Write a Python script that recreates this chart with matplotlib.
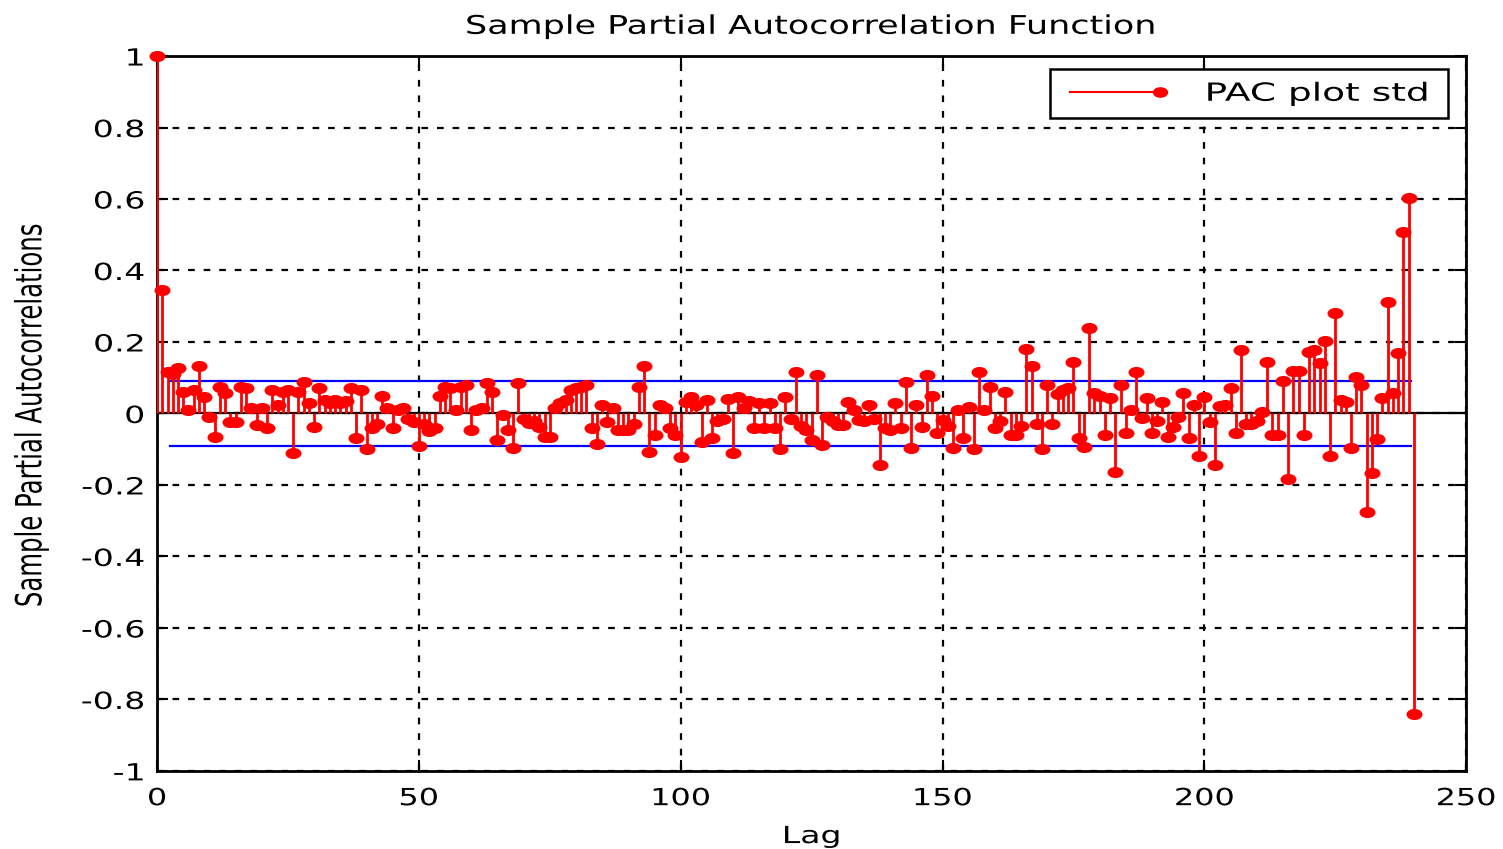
import numpy as np
import matplotlib
matplotlib.use("Agg")
import matplotlib.pyplot as plt
from matplotlib.lines import Line2D
from matplotlib.legend_handler import HandlerLine2D
from matplotlib.patheffects import AbstractPathEffect
from matplotlib.transforms import Affine2D
from matplotlib.path import Path

# ---------------- data ----------------
pacf_0_40 = [1.0, 0.345, 0.115, 0.11, 0.128, 0.06, 0.01, 0.065, 0.133, 0.045,
             -0.01, -0.065, 0.075, 0.056, -0.023, -0.023, 0.075, 0.07, 0.015, -0.033,
             0.015, -0.042, 0.065, 0.023, 0.06, 0.065, -0.112, 0.06, 0.089, 0.03,
             -0.037, 0.07, 0.037, 0.03, 0.037, 0.03, 0.035, 0.07, -0.07, 0.065,
             -0.1]
pacf_41_86 = [-0.04, -0.03, 0.05, 0.015, -0.04, 0.01, 0.015, -0.015, -0.025, -0.09,
              -0.03, -0.05, -0.04, 0.05, 0.075, 0.07, 0.01, 0.075, 0.08, -0.045,
              0.01, 0.015, 0.085, 0.06, -0.075, -0.005, -0.045, -0.098, 0.086, -0.015,
              -0.028, -0.02, -0.037, -0.065, -0.065, 0.014, 0.028, 0.037, 0.065, 0.07,
              0.075, 0.08, -0.04, -0.085, 0.025, -0.025]
pacf_87_127 = [0.015, -0.045, -0.045, -0.045, -0.03, 0.075, 0.133, -0.107, -0.06, 0.023,
               0.014, -0.042, -0.06, -0.123, 0.033, 0.047, 0.023, -0.08, 0.037, -0.07,
               -0.02, -0.015, 0.04, -0.11, 0.045, 0.015, 0.035, -0.04, 0.03, -0.04,
               0.03, -0.04, -0.1, 0.045, -0.015, 0.115, -0.035, -0.045, -0.075, 0.107,
               -0.089]
pacf_128_167 = [-0.01, -0.02, -0.033, -0.033, 0.033, 0.01, -0.019, -0.02, 0.023, -0.015,
                -0.145, -0.04, -0.047, 0.028, -0.04, 0.089, -0.098, 0.023, -0.037, 0.107,
                0.05, -0.056, -0.019, -0.035, -0.098, 0.009, -0.07, 0.019, -0.1, 0.117,
                0.009, 0.075, -0.042, -0.02, 0.06, -0.06, -0.06, -0.035, 0.18, 0.133]
pacf_168_206 = [-0.03, -0.1, 0.08, -0.03, 0.055, 0.065, 0.07, 0.145, -0.07, -0.093,
                0.238, 0.056, 0.05, -0.06, 0.042, -0.163, 0.08, -0.055, 0.01, 0.117,
                -0.014, 0.042, -0.055, -0.02, 0.033, -0.065, -0.037, -0.01, 0.056, -0.07,
                0.024, -0.12, 0.047, -0.023, -0.143, 0.02, 0.025, 0.07, -0.055]
pacf_207_240 = [0.178, -0.03, -0.03, -0.02, 0.005, 0.145, -0.06, -0.06, 0.09, -0.184,
                0.12, 0.12, -0.06, 0.173, 0.178, 0.14, 0.203, -0.12, 0.28, 0.038,
                0.033, -0.097, 0.103, 0.08, -0.277, -0.167, -0.072, 0.042, 0.313, 0.056,
                0.168, 0.509, 0.602, -0.84]

pacf = np.array(pacf_0_40 + pacf_41_86 + pacf_87_127 + pacf_128_167
                + pacf_168_206 + pacf_207_240)
lags = np.arange(len(pacf))
conf_bound = 0.09
conf_range = [2.5, 239.5]

xticks = [0, 50, 100, 150, 200, 250]
yticks = [-1, -0.8, -0.6, -0.4, -0.2, 0, 0.2, 0.4, 0.6, 0.8, 1]
ytick_labels = ["-1", "-0.8", "-0.6", "-0.4", "-0.2", "0", "0.2", "0.4", "0.6", "0.8", "1"]

title = "Sample Partial Autocorrelation Function"
xlabel = "Lag"
ylabel = "Sample Partial Autocorrelations"
legend_label = "PAC plot std"


# ---------------- helpers ----------------
class Stretch(AbstractPathEffect):
    """Stretch text glyphs along the text direction."""
    def __init__(self, sx, anchor='center'):
        super().__init__()
        self.sx = sx
        self.anchor = anchor

    def draw_path(self, renderer, gc, tpath, affine, rgbFace=None):
        ext = tpath.get_extents()
        if self.anchor == 'center':
            cx = 0.5 * (ext.x0 + ext.x1)
        elif self.anchor == 'right':
            cx = ext.x1
        else:
            cx = ext.x0
        t = Affine2D().translate(-cx, 0).scale(self.sx, 1).translate(cx, 0) + affine
        renderer.draw_path(gc, tpath, t, rgbFace)


ellipse = Path.unit_circle().transformed(Affine2D().scale(1.5, 1.0))

# ---------------- figure ----------------
plt.rcParams['font.family'] = ['DejaVu Sans']
fig = plt.figure(figsize=(15.03, 8.49), dpi=100)
ax = fig.add_axes([0.1045, 0.092, 0.871, 0.842])

red = '#ff0000'
ax.vlines(lags, 0, pacf, color=red, linewidth=2.0, zorder=3)
ax.plot(lags, pacf, linestyle='none', marker=ellipse, markersize=10.5,
        color=red, zorder=4, clip_on=False)
ax.axhline(0, color='black', linewidth=1.6, zorder=2)
ax.plot(conf_range, [conf_bound, conf_bound], color='#0000ff', linewidth=1.6, zorder=2)
ax.plot(conf_range, [-conf_bound, -conf_bound], color='#0000ff', linewidth=1.6, zorder=2)

ax.set_xlim(0, 250)
ax.set_ylim(-1, 1)
ax.set_xticks(xticks)
ax.set_yticks(yticks)
ax.set_yticklabels(ytick_labels)
ax.grid(True, color='black', linestyle=(0, (3, 4)), linewidth=1.6)
ax.set_axisbelow(True)
ax.tick_params(direction='in', length=8, width=1.5, labelsize=17,
               top=True, right=True)
ax.tick_params(axis='x', pad=11)
ax.tick_params(axis='y', pad=9)
for s in ax.spines.values():
    s.set_linewidth(2.0)
    s.set_color('black')

for lbl in ax.get_xticklabels():
    lbl.set_path_effects([Stretch(1.35, 'center')])
for lbl in ax.get_yticklabels():
    lbl.set_path_effects([Stretch(1.4, 'right')])

t = ax.set_title(title, fontsize=18.5, pad=16)
t.set_path_effects([Stretch(1.36, 'center')])
xl = ax.set_xlabel(xlabel, fontsize=17, labelpad=10)
xl.set_path_effects([Stretch(1.4, 'center')])
yl = ax.set_ylabel(ylabel, fontsize=26)
yl.set_path_effects([Stretch(0.675, 'center')])
ax.yaxis.set_label_coords(-0.083, 0.497)


class EndMarkerHandler(HandlerLine2D):
    def create_artists(self, legend, orig_handle, xdescent, ydescent,
                       width, height, fontsize, trans):
        arts = super().create_artists(legend, orig_handle, xdescent, ydescent,
                                      width, height, fontsize, trans)
        for a in arts:
            xd = a.get_xdata()
            if len(xd) >= 2:
                a.set_markevery([len(xd) - 1])
        return arts


handle = Line2D([0], [0], color=red, linewidth=1.5, marker=ellipse, markersize=10)
pad_spaces = "\u00a0" * 10
leg = ax.legend([handle], [legend_label + pad_spaces], loc='upper right', fontsize=18,
                handlelength=4.2, handletextpad=1.55, borderpad=0.5,
                fancybox=False, framealpha=1, edgecolor='black',
                numpoints=2, bbox_to_anchor=(0.996, 0.999),
                handler_map={Line2D: EndMarkerHandler(numpoints=2)})
leg.get_frame().set_linewidth(1.8)
for txt in leg.get_texts():
    txt.set_path_effects([Stretch(1.5, 'left')])

fig.savefig("out.png", dpi=100)
